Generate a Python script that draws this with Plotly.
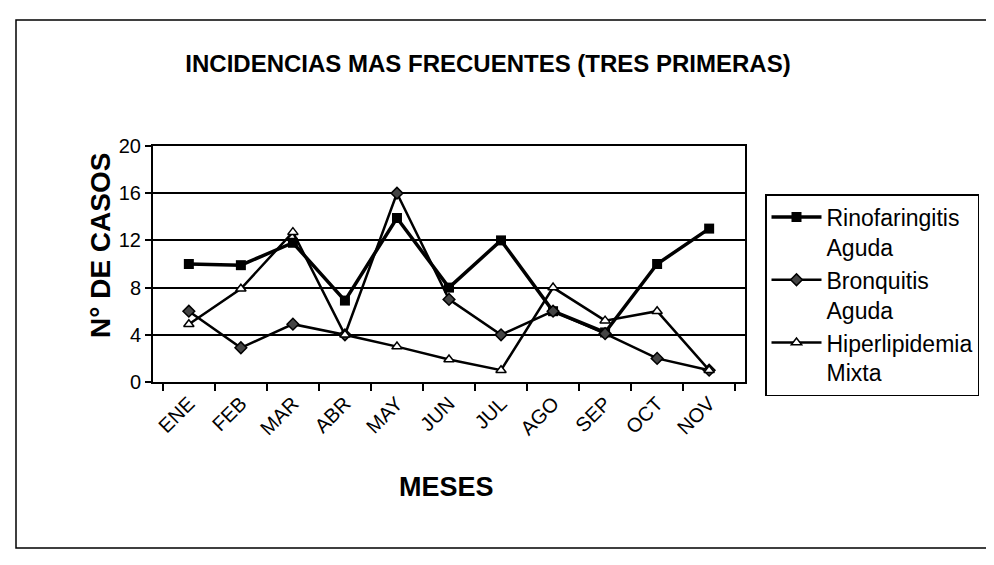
import plotly.graph_objects as go

months = ["ENE", "FEB", "MAR", "ABR", "MAY", "JUN", "JUL", "AGO", "SEP", "OCT", "NOV"]
rinofaringitis = [10.0, 9.9, 11.8, 6.9, 13.9, 8.0, 12.0, 6.0, 4.2, 10.0, 13.0]
bronquitis = [6.0, 2.9, 4.9, 4.0, 16.0, 7.0, 4.0, 6.0, 4.1, 2.0, 1.0]
hiperlipidemia = [4.9, 7.9, 12.7, 4.0, 3.0, 1.9, 1.0, 8.0, 5.2, 6.0, 1.0]
y_ticks = [0, 4, 8, 12, 16, 20]

FONT = "Liberation Sans, Arial, sans-serif"

# target plot area in page pixels (page has an 8px body margin)
PL, PR, PT, PB = 153, 745, 146, 382
PW, PH = PR - PL, PB - PT
OFF = 8
W, H = 994, 565

def px(x):
    return (x - PL) / PW

def py(y):
    return (PB - y) / PH

fig = go.Figure()
fig.add_trace(go.Scatter(
    x=months, y=rinofaringitis, mode="lines+markers",
    name="Rinofaringitis<br>Aguda",
    line=dict(color="black", width=3.5),
    marker=dict(symbol="square", size=10, color="black"),
))
fig.add_trace(go.Scatter(
    x=months, y=bronquitis, mode="lines+markers",
    name="Bronquitis<br>Aguda",
    line=dict(color="black", width=2.5),
    marker=dict(symbol="diamond", size=9, color="#444", line=dict(color="black", width=1.5)),
))
fig.add_trace(go.Scatter(
    x=months, y=hiperlipidemia, mode="lines+markers",
    name="Hiperlipidemia<br>Mixta",
    line=dict(color="black", width=2.5),
    marker=dict(symbol="triangle-up", size=9, color="white", line=dict(color="black", width=1.5)),
))

fig.update_layout(
    width=W, height=H,
    paper_bgcolor="white", plot_bgcolor="white",
    margin=dict(l=PL - OFF, r=W - PR + OFF, t=PT - OFF, b=H - PB + OFF),
    font=dict(family=FONT, color="black"),
    title=dict(text="<b>INCIDENCIAS MAS FRECUENTES (TRES PRIMERAS)</b>",
               x=(488 - OFF) / W, xanchor="center", y=1 - (64 - OFF) / H, yanchor="middle",
               font=dict(size=24, family=FONT, color="black")),
    showlegend=True,
    legend=dict(
        x=px(765), xanchor="left", y=py(194), yanchor="top",
        bgcolor="white", bordercolor="black", borderwidth=1.5,
        font=dict(size=23, family=FONT, color="black"),
        tracegroupgap=0, valign="top", itemwidth=50,
    ),
)

fig.update_xaxes(
    type="category", categoryorder="array", categoryarray=months,
    tickangle=-45, tickson="boundaries", ticks="outside", ticklen=7,
    tickcolor="black", tickwidth=1.5,
    showline=True, linecolor="black", linewidth=2, mirror=True,
    showgrid=False,
    tickfont=dict(size=20, family=FONT, color="black"),
)
fig.update_yaxes(
    range=[0, 20], tickvals=y_ticks, ticktext=[str(v) for v in y_ticks],
    ticks="outside", ticklen=6, tickcolor="black", tickwidth=1.5,
    showline=True, linecolor="black", linewidth=2, mirror=True,
    showgrid=True, gridcolor="black", gridwidth=1.5,
    zeroline=False,
    tickfont=dict(size=20, family=FONT, color="black"),
)

fig.add_annotation(
    text="<b>N° DE CASOS</b>", textangle=-90,
    xref="paper", yref="paper", x=px(100), y=py(246),
    xanchor="center", yanchor="middle", showarrow=False,
    font=dict(size=28, family=FONT, color="black"),
)
fig.add_annotation(
    text="<b>MESES</b>",
    xref="paper", yref="paper", x=px(446), y=py(487),
    xanchor="center", yanchor="middle", showarrow=False,
    font=dict(size=27, family=FONT, color="black"),
)

fig.add_shape(
    type="rect", xref="paper", yref="paper",
    x0=px(16), x1=px(1020), y0=py(548), y1=py(20),
    line=dict(color="black", width=1.5), fillcolor="rgba(0,0,0,0)", layer="below",
)

fig.write_html("out.html")
